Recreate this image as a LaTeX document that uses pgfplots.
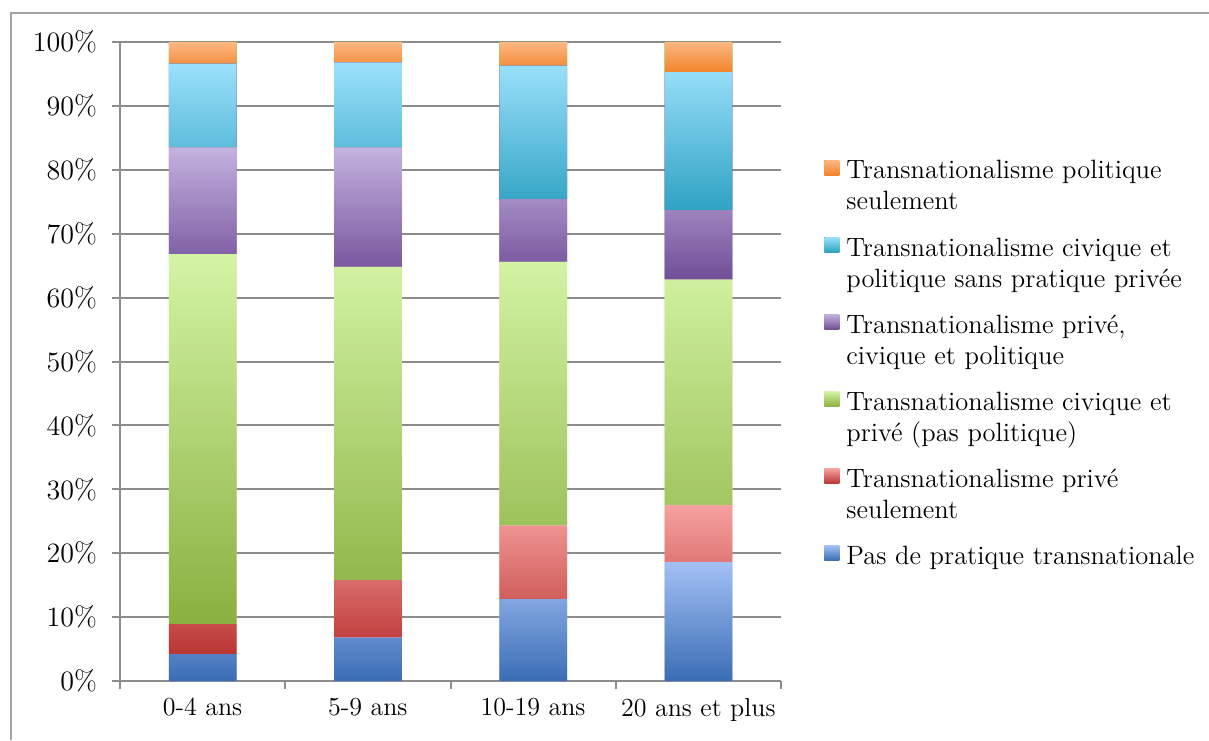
\documentclass[border=0pt]{standalone}
\usepackage{fontspec}
\usepackage{pgfplots}
\usepackage{pgfplotstable}
\pgfplotsset{compat=1.18}

\definecolor{gridgray}{HTML}{8C8C8C}
\definecolor{blueTop}{HTML}{A3C0F5}   \definecolor{blueBot}{HTML}{3A6DB4}
\definecolor{redTop}{HTML}{F6A2A0}    \definecolor{redBot}{HTML}{BA3533}
\definecolor{greenTop}{HTML}{D4F4A5}  \definecolor{greenBot}{HTML}{8AB040}
\definecolor{purpTop}{HTML}{C4B2DF}   \definecolor{purpBot}{HTML}{714E98}
\definecolor{cyanTop}{HTML}{9CE1FC}   \definecolor{cyanBot}{HTML}{2FA2C3}
\definecolor{oranTop}{HTML}{FDB784}   \definecolor{oranBot}{HTML}{F2832A}

% segment heights in percent, categories at x = 1..4
\pgfplotstableread{
x  pas   prive  civprive  tous  civpol  pol
1  4.2   4.7    57.9      16.7  13.1    3.4
2  6.8   9.0    49.0      18.7  13.3    3.2
3  12.8  11.5   41.3      9.8   20.9    3.7
4  18.6  8.9    35.3      10.9  21.6    4.7
}\datatable

\newcommand{\lbl}{\fontsize{13}{15.5}\selectfont}
\newcommand{\ylbl}{\fontsize{14}{16}\selectfont}
\newcommand{\leglbl}{\fontsize{13.25}{15.5}\selectfont}
\newcommand{\entry}[1]{\begin{tabular}[t]{@{}l@{}}#1\end{tabular}}

\pgfplotsset{
  segment/.style 2 args={
    top color=#1, bottom color=#2, draw=none,
    legend image code/.code={\path[top color=#1, bottom color=#2] (0pt,-2.5pt) rectangle (7.5pt,5pt);}
  }
}

\begin{document}
\lbl
\begin{tikzpicture}
\useasboundingbox (-60pt,-29.5pt) rectangle (544.5pt,340.5pt);
\draw[gridgray!80, line width=1pt] (-54.5pt,-29.5pt) -- (-54.5pt,334pt) -- (544.5pt,334pt);
\begin{axis}[
  at={(0pt,0pt)}, anchor=south west,
  scale only axis, width=330.5pt, height=319.5pt,
  ybar stacked, bar width=0.41,
  xmin=0.5, xmax=4.5, ymin=0, ymax=100,
  axis x line*=bottom, axis y line*=left,
  axis line style={gridgray, line width=1pt},
  xtick={0.5,1.5,2.5,3.5,4.5}, xticklabels={},
  extra x ticks={1,2,3,4},
  extra x tick labels={0-4 ans,5-9 ans,10-19 ans,20 ans et plus},
  extra x tick style={major tick length=0pt, grid=none},
  ytick={0,10,...,100},
  yticklabels={0\%,10\%,20\%,30\%,40\%,50\%,60\%,70\%,80\%,90\%,100\%},
  ymajorgrids, grid style={gridgray, line width=1pt},
  tick align=outside, major tick length=4pt,
  tick style={gridgray, line width=1pt},
  x tick label style={font=\lbl, text=black, yshift=-4pt},
  y tick label style={font=\ylbl, text=black, xshift=-3pt},
  reverse legend,
  legend cell align=left,
  legend style={at={(1.065,0.8203)}, anchor=north west, draw=none, fill=none,
    inner sep=0pt, row sep=25.75pt, column sep=3.5pt, font=\leglbl,
    nodes={inner sep=0pt}},
]
\addplot+[segment={blueTop}{blueBot}] table[x=x, y=pas] {\datatable};
\addlegendentry{\entry{Pas de pratique transnationale}}
\addplot+[segment={redTop}{redBot}] table[x=x, y=prive] {\datatable};
\addlegendentry{\entry{Transnationalisme privé\\seulement}}
\addplot+[segment={greenTop}{greenBot}] table[x=x, y=civprive] {\datatable};
\addlegendentry{\entry{Transnationalisme civique et\\privé (pas politique)}}
\addplot+[segment={purpTop}{purpBot}] table[x=x, y=tous] {\datatable};
\addlegendentry{\entry{Transnationalisme privé,\\civique et politique}}
\addplot+[segment={cyanTop}{cyanBot}] table[x=x, y=civpol] {\datatable};
\addlegendentry{\entry{Transnationalisme civique et\\politique sans pratique privée}}
\addplot+[segment={oranTop}{oranBot}] table[x=x, y=pol] {\datatable};
\addlegendentry{\entry{Transnationalisme politique\\seulement}}
\end{axis}
\end{tikzpicture}
\end{document}
